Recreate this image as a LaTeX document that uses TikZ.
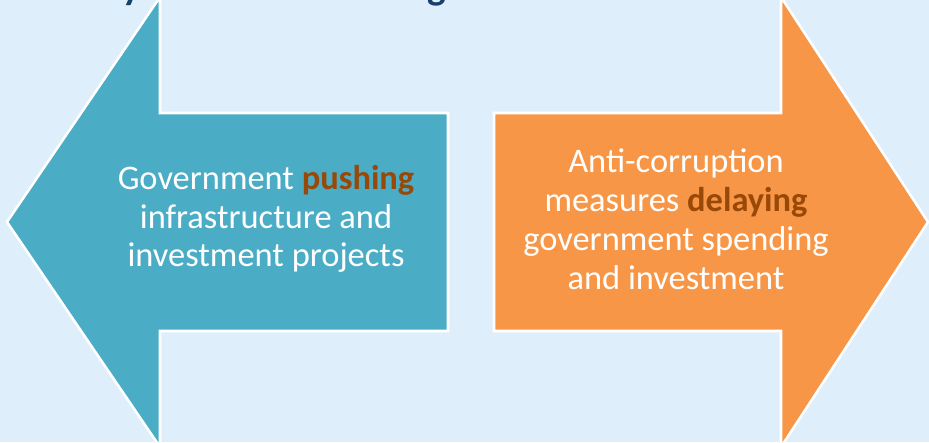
\documentclass[tikz,border=0pt]{standalone}
\usepackage{fontspec}
\setmainfont{Carlito}
\usetikzlibrary{positioning}
\definecolor{PageBlue}{HTML}{DEEEFB}
\definecolor{ArrowTeal}{HTML}{4BACC6}
\definecolor{ArrowOrange}{HTML}{F79646}
\definecolor{WordBrown}{HTML}{984807}
\definecolor{TitleBlue}{HTML}{17406D}
\tikzstyle{Arrow} = [draw=white, line width=1.8pt, line join=miter]
\tikzstyle{Label} = [text=white, align=center, inner sep=0pt, font=\fontsize{24.5}{27.6}\selectfont]
\tikzstyle{Title} = [text=TitleBlue, anchor=base, inner sep=0pt, font=\fontsize{28}{34}\selectfont\bfseries]

\begin{document}
\begin{tikzpicture}[x=0.025cm, y=-0.025cm]
    \fill[PageBlue] (0,0) rectangle (929,442);
    \useasboundingbox (0,0) rectangle (929,442);
    \clip (0,0) rectangle (929,442);
    % title, cut off at the top edge
    \node[Title] (titley) at (132,-1) {y};
    \node[Title] (titleg) at (437,-1) {g};
    % the two arrows
    \draw[Arrow, fill=ArrowTeal]   (7,222) -- (160,-3) -- (160,113) -- (448,113)
        -- (448,331) -- (160,331) -- (160,447) -- cycle;
    \draw[Arrow, fill=ArrowOrange] (928,222) -- (781,-3) -- (781,113) -- (494,113)
        -- (494,331) -- (781,331) -- (781,447) -- cycle;
    \node[Label] (push)  at (266,219) {Government \textbf{\textcolor{WordBrown}{pushing}}\\
        infrastructure and\\ investment projects};
    \node[Label] (delay) at (676,219) {Anti-corruption\\
        measures \textbf{\textcolor{WordBrown}{delaying}}\\
        government spending\\ and investment};
\end{tikzpicture}
\end{document}
